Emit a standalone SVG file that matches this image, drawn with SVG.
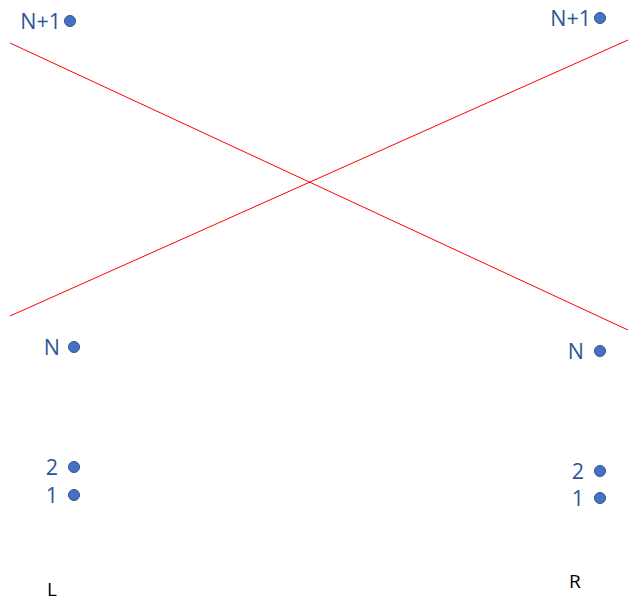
<svg xmlns="http://www.w3.org/2000/svg" width="628" height="602" viewBox="0 0 628 602">
<style>
.lbl{font-family:"Open Sans","Liberation Sans",sans-serif;font-size:21.5px;fill:#2F5597;text-anchor:end}
.side{font-family:"Open Sans","Liberation Sans",sans-serif;font-size:19px;fill:#000}
.dot{fill:#4472C4;stroke:#2F528F;stroke-width:1}
.ln{stroke:#FF0000;stroke-width:1;fill:none}
</style>
<rect width="628" height="602" fill="#fff"/>
<g id="connectors">
<line class="ln" x1="10" y1="43" x2="628" y2="330"/>
<line class="ln" x1="10" y1="316" x2="628" y2="40"/>
</g>
<g id="L-N1"><text class="lbl" x="61" y="29">N+1</text><circle class="dot" cx="70" cy="21" r="5.5"/></g>
<g id="R-N1"><text class="lbl" x="591" y="26">N+1</text><circle class="dot" cx="600" cy="18" r="5.5"/></g>
<g id="L-N"><text class="lbl" x="60" y="355">N</text><circle class="dot" cx="74" cy="347" r="5.5"/></g>
<g id="R-N"><text class="lbl" x="584" y="359">N</text><circle class="dot" cx="600" cy="351" r="5.5"/></g>
<g id="L-2"><text class="lbl" x="58" y="475">2</text><circle class="dot" cx="74" cy="467" r="5.5"/></g>
<g id="L-1"><text class="lbl" x="58" y="503">1</text><circle class="dot" cx="74" cy="495" r="5.5"/></g>
<g id="R-2"><text class="lbl" x="584" y="479">2</text><circle class="dot" cx="600" cy="471" r="5.5"/></g>
<g id="R-1"><text class="lbl" x="584" y="506">1</text><circle class="dot" cx="600" cy="498" r="5.5"/></g>
<g id="L"><text class="side" x="47" y="596">L</text></g>
<g id="R"><text class="side" x="569" y="588">R</text></g>
</svg>
